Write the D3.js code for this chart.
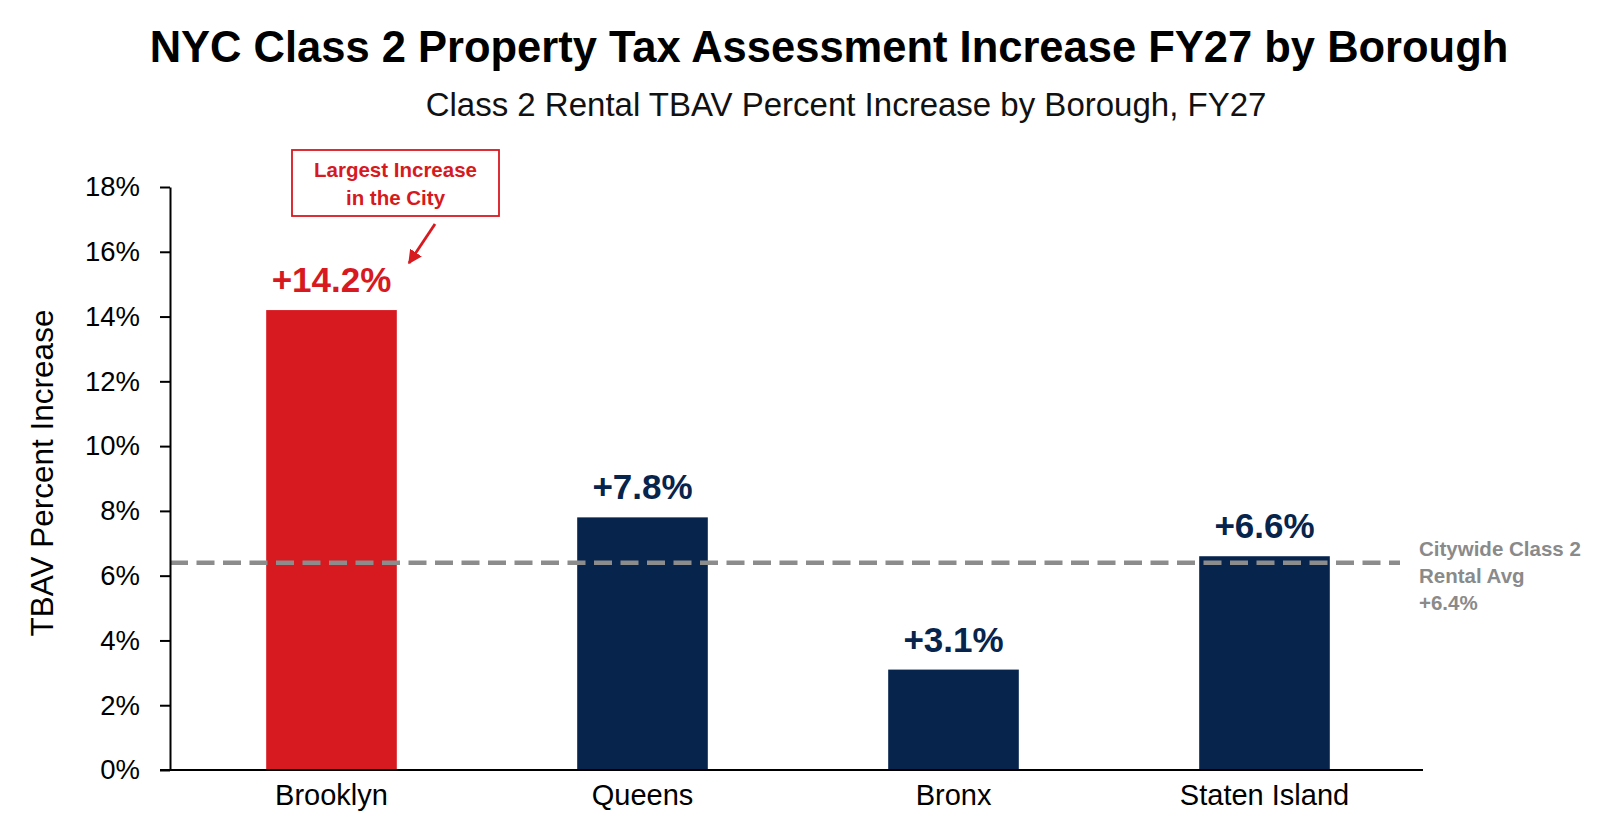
<!DOCTYPE html>
<html>
<head>
<meta charset="utf-8">
<script src="https://cdn.jsdelivr.net/npm/d3@7"></script>
<style>
  html, body { margin: 0; padding: 0; background: #ffffff; }
  svg { display: block; font-family: "Liberation Sans", Arial, sans-serif; }
</style>
</head>
<body>
<svg id="chart" width="1600" height="840"></svg>
<script>
const boroughs = ["Brooklyn", "Queens", "Bronx", "Staten Island"];
const increases = [14.2, 7.8, 3.1, 6.6];
const barColors = ["#D71920", "#07244D", "#07244D", "#07244D"];
const yTicks = [0, 2, 4, 6, 8, 10, 12, 14, 16, 18];
const citywideAvg = 6.4;
const avgLabelLines = ["Citywide Class 2", "Rental Avg", "+6.4%"];
const calloutLines = ["Largest Increase", "in the City"];

const svg = d3.select("#chart");

const x = d3.scaleBand().domain(boroughs).range([176, 1420]).paddingInner(0.58).paddingOuter(0.29);
const y = d3.scaleLinear().domain([0, 18]).range([770, 187]);

// Title & subtitle
svg.append("text").attr("x", 829).attr("y", 62).attr("text-anchor", "middle")
  .attr("font-size", 43.5).attr("font-weight", "bold").attr("fill", "#000")
  .text("NYC Class 2 Property Tax Assessment Increase FY27 by Borough");
svg.append("text").attr("x", 846).attr("y", 116).attr("text-anchor", "middle")
  .attr("font-size", 33).attr("fill", "#111")
  .text("Class 2 Rental TBAV Percent Increase by Borough, FY27");

// Bars
svg.append("g").selectAll("rect").data(boroughs).join("rect")
  .attr("x", d => x(d)).attr("width", x.bandwidth())
  .attr("y", (d, i) => y(increases[i]))
  .attr("height", (d, i) => y(0) - y(increases[i]))
  .attr("fill", (d, i) => barColors[i]);

// Value labels
svg.append("g").selectAll("text").data(boroughs).join("text")
  .attr("x", d => x(d) + x.bandwidth() / 2)
  .attr("y", (d, i) => y(increases[i]) - 18)
  .attr("text-anchor", "middle").attr("font-size", 35).attr("font-weight", "bold")
  .attr("fill", (d, i) => barColors[i])
  .text((d, i) => "+" + increases[i].toFixed(1) + "%");

// Citywide average dashed line
svg.append("line").attr("x1", 170).attr("x2", 1400)
  .attr("y1", y(citywideAvg)).attr("y2", y(citywideAvg))
  .attr("stroke", "#8C8C8C").attr("stroke-width", 4.5)
  .attr("stroke-dasharray", "18,8.5");

svg.append("g").selectAll("text").data(avgLabelLines).join("text")
  .attr("x", 1419).attr("y", (d, i) => 556 + i * 27)
  .attr("font-size", 20.5).attr("font-weight", "bold").attr("fill", "#8A8A8A")
  .text(d => d);

// Y axis
const yAxis = svg.append("g").attr("transform", "translate(170,0)")
  .call(d3.axisLeft(y).tickValues(yTicks).tickFormat(d => d + "%").tickSize(10).tickPadding(20).tickSizeOuter(0));
yAxis.select(".domain").attr("stroke", "#000").attr("stroke-width", 2);
yAxis.selectAll(".tick line").attr("stroke", "#000").attr("stroke-width", 2);
yAxis.selectAll(".tick text").attr("font-size", 27.5).attr("fill", "#000")
  .attr("font-family", "'Liberation Sans', Arial, sans-serif");

// X axis
const xAxis = svg.append("g").attr("transform", "translate(0,770)")
  .call(d3.axisBottom(x).tickSize(0).tickPadding(14));
xAxis.select(".domain").attr("stroke", "#000").attr("stroke-width", 2)
  .attr("d", "M160,0H1423");
xAxis.selectAll(".tick text").attr("font-size", 29).attr("fill", "#000")
  .attr("dy", "0.71em")
  .attr("font-family", "'Liberation Sans', Arial, sans-serif");

// Y axis title
svg.append("text").attr("transform", "translate(53,473) rotate(-90)")
  .attr("text-anchor", "middle").attr("font-size", 31.5).attr("fill", "#000")
  .text("TBAV Percent Increase");

// Callout box
svg.append("rect").attr("x", 292).attr("y", 150).attr("width", 207).attr("height", 66)
  .attr("fill", "#fff").attr("stroke", "#D71920").attr("stroke-width", 1.8);
svg.append("g").selectAll("text").data(calloutLines).join("text")
  .attr("x", 395.5).attr("y", (d, i) => 177 + i * 28)
  .attr("text-anchor", "middle").attr("font-size", 20.5).attr("font-weight", "bold")
  .attr("fill", "#D71920").text(d => d);

// Arrow
const defs = svg.append("defs");
defs.append("marker").attr("id", "arrowhead").attr("viewBox", "0 0 10 10")
  .attr("refX", 9).attr("refY", 5).attr("markerWidth", 5).attr("markerHeight", 5)
  .attr("markerUnits", "strokeWidth").attr("orient", "auto")
  .append("path").attr("d", "M0,0L10,5L0,10Z").attr("fill", "#D71920");
svg.append("line").attr("x1", 435).attr("y1", 224).attr("x2", 409).attr("y2", 263)
  .attr("stroke", "#D71920").attr("stroke-width", 2.8).attr("marker-end", "url(#arrowhead)");
</script>
</body>
</html>
